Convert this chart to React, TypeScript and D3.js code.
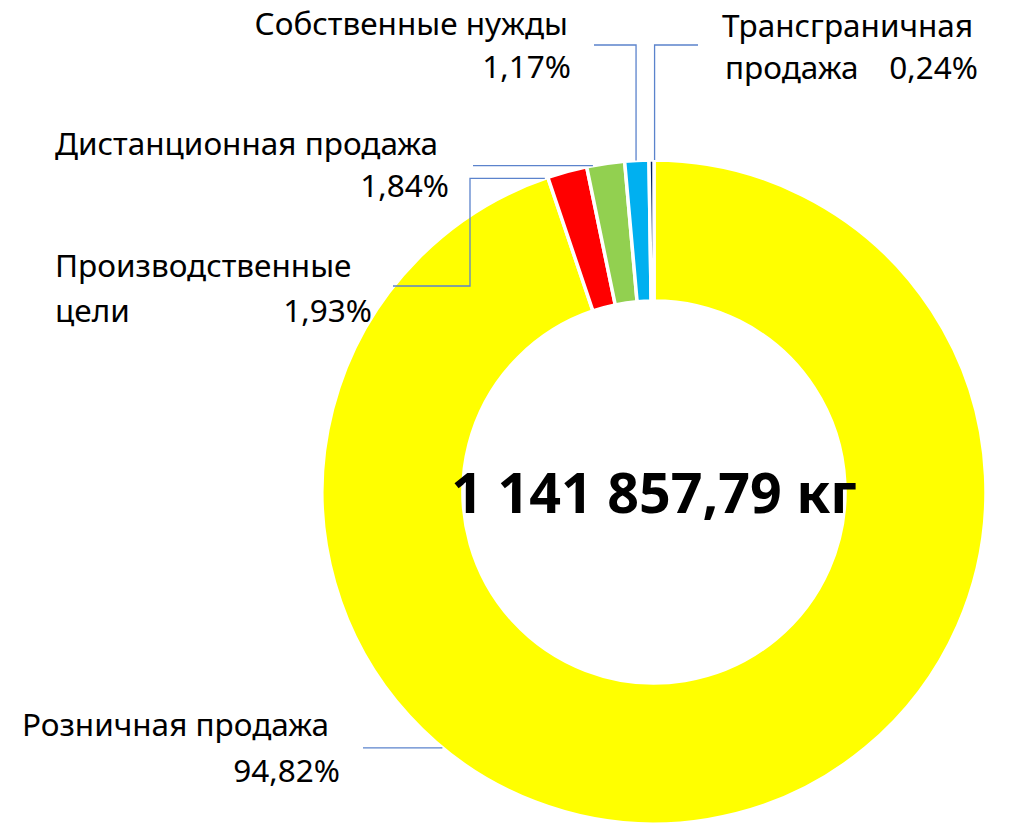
import React from "react";
import * as d3 from "d3";

// ---- data ----
const categories = [
  "Розничная продажа",
  "Производственные цели",
  "Дистанционная продажа",
  "Собственные нужды",
  "Трансграничная продажа",
];
const shares = [94.82, 1.93, 1.84, 1.17, 0.24];
const shareLabels = ["94,82%", "1,93%", "1,84%", "1,17%", "0,24%"];
const colors = ["#FFFF00", "#FF0000", "#92D050", "#00B0F0", "#002060"];
const totalLabel = "1 141 857,79 кг";

// ---- layout ----
const W = 1013;
const H = 823;
const CX = 654;
const CY = 492;
const R_OUT = 332;
const R_IN = 191;
const FONT = "'Noto Sans', 'Open Sans', sans-serif";
const FS = 31.5;
const LEADER = "#5B83CC";

// label text pieces per category: [text, x, y, anchor]
type Piece = [string, number, number, "start" | "end"];
const labelPieces: Piece[][] = [
  [["Розничная продажа", 22, 736, "start"], ["__v", 340, 782, "end"]],
  [["Производственные", 55, 277, "start"], ["цели", 55, 322, "start"], ["__v", 372, 322, "end"]],
  [["Дистанционная продажа", 55, 155, "start"], ["__v", 449, 197, "end"]],
  [["Собственные нужды", 568, 35, "end"], ["__v", 571, 78, "end"]],
  [["Трансграничная", 722, 37, "start"], ["продажа", 725, 79, "start"], ["__v", 978, 79, "end"]],
];
// leader: touch angle (deg, clockwise from top) + path after it
const leaderAngles = [219.6, -19.2, -10.6, -3.1, 0.1];
// each step: ["h", x] horizontal to x, ["v", y] vertical to y
type Step = ["h" | "v", number];
const leaderSteps: Step[][] = [
  [["h", 363]],
  [["h", 470], ["v", 286], ["h", 393]],
  [["h", 473]],
  [["v", 45], ["h", 594]],
  [["v", 45], ["h", 698]],
];

export default function App() {
  const pie = d3
    .pie<number>()
    .sort(null)
    .value((d) => d)
    .startAngle(0)
    .endAngle(2 * Math.PI);
  const arcs = pie(shares);
  const arc = d3.arc<d3.PieArcDatum<number>>().innerRadius(R_IN).outerRadius(R_OUT);

  const leaderPath = (i: number) => {
    const a = (leaderAngles[i] * Math.PI) / 180;
    const p = d3.path();
    let x = CX + R_OUT * Math.sin(a);
    let y = CY - R_OUT * Math.cos(a);
    p.moveTo(x, y);
    for (const [k, v] of leaderSteps[i]) {
      if (k === "h") x = v;
      else y = v;
      p.lineTo(x, y);
    }
    return p.toString();
  };

  return (
    <svg
      width={W}
      height={H}
      style={{ position: "absolute", left: 0, top: 0, background: "#fff" }}
      fontFamily={FONT}
    >
      <g transform={`translate(${CX},${CY})`}>
        {arcs.map((a, i) => (
          <path key={i} d={arc(a) || ""} fill={colors[i]} stroke="#fff" strokeWidth={3.5} />
        ))}
      </g>
      {categories.map((c, i) => (
        <path key={"l" + i} d={leaderPath(i)} fill="none" stroke={LEADER} strokeWidth={1.3} />
      ))}
      {labelPieces.map((pieces, i) =>
        pieces.map(([t, x, y, anchor], j) => (
          <text key={i + "-" + j} x={x} y={y} textAnchor={anchor} fontSize={FS} fill="#000">
            {t === "__v" ? shareLabels[i] : t}
          </text>
        ))
      )}
      <text
        x={CX}
        y={513}
        textAnchor="middle"
        fontSize={55.5}
        fontWeight="bold"
        fill="#000"
      >
        {totalLabel}
      </text>
    </svg>
  );
}
